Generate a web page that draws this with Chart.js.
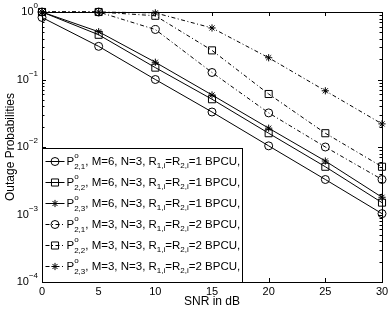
<!DOCTYPE html>
<html>
<head>
<meta charset="utf-8">
<script src="https://cdn.jsdelivr.net/npm/chart.js@4/dist/chart.umd.min.js"></script>
<style>
  html, body { margin: 0; padding: 0; background: #fff; }
  #wrap { width: 390px; height: 309px; }
</style>
</head>
<body>
<div id="wrap"><canvas id="outageChart"></canvas></div>
<script>
// data
const snrDb = [0, 5, 10, 15, 20, 25, 30];
const solidCircle = [0.83, 0.31, 0.10, 0.033, 0.0104, 0.0033, 0.00103];
const solidSquare = [1, 0.46, 0.15, 0.051, 0.016, 0.0051, 0.0015];
const solidStar = [1, 0.51, 0.18, 0.059, 0.019, 0.0062, 0.0018];
const dashCircle = [1, 1, 0.55, 0.127, 0.032, 0.010, 0.0033];
const dashSquare = [1, 1, 0.88, 0.27, 0.061, 0.016, 0.0051];
const dashStar = [1, 1, 0.97, 0.58, 0.21, 0.068, 0.022];

const xTicks = [0, 5, 10, 15, 20, 25, 30];
const yExponents = [0, -1, -2, -3, -4];

const legendRows = [
  { sub: '2,1', m: '6', r: '1' },
  { sub: '2,2', m: '6', r: '1' },
  { sub: '2,3', m: '6', r: '1' },
  { sub: '2,1', m: '3', r: '2' },
  { sub: '2,2', m: '3', r: '2' },
  { sub: '2,3', m: '3', r: '2' }
];

const FONT = '"Liberation Sans", Arial, Helvetica, sans-serif';
const DASHDOT = [4, 2.5, 1, 2.5];
const SIZES = { circle: 4, rect: 5, star: 3.6 };

function series(data, marker, dashed) {
  return {
    data: snrDb.map((x, i) => ({ x: x, y: data[i] })),
    borderColor: '#000',
    borderWidth: 1,
    borderDash: dashed ? DASHDOT : [],
    pointStyle: marker,
    pointRadius: SIZES[marker],
    pointBorderColor: '#000',
    pointBackgroundColor: 'rgba(0,0,0,0)',
    pointBorderWidth: 1,
    tension: 0,
    clip: false
  };
}

const datasets = [
  series(solidCircle, 'circle', false),
  series(solidSquare, 'rect', false),
  series(solidStar, 'star', false),
  series(dashCircle, 'circle', true),
  series(dashSquare, 'rect', true),
  series(dashStar, 'star', true)
];

// frame, inward ticks, labels and legend drawn on the canvas
const decorations = {
  id: 'decorations',
  afterDatasetsDraw(chart) {
    const ctx = chart.ctx;
    const a = chart.chartArea;
    const xs = chart.scales.x;
    const ys = chart.scales.y;
    ctx.save();
    ctx.strokeStyle = '#000';
    ctx.fillStyle = '#000';
    ctx.lineWidth = 1;

    // ticks
    ctx.beginPath();
    xTicks.forEach(v => {
      const px = Math.round(xs.getPixelForValue(v)) + 0.5;
      ctx.moveTo(px, a.bottom); ctx.lineTo(px, a.bottom - 4);
      ctx.moveTo(px, a.top); ctx.lineTo(px, a.top + 4);
    });
    yExponents.forEach(e => {
      const py = Math.round(ys.getPixelForValue(Math.pow(10, e))) + 0.5;
      ctx.moveTo(a.left, py); ctx.lineTo(a.left + 4, py);
      ctx.moveTo(a.right, py); ctx.lineTo(a.right - 4, py);
      if (e > -4) {
        for (let k = 2; k <= 9; k++) {
          const pm = Math.round(ys.getPixelForValue(k * Math.pow(10, e - 1))) + 0.5;
          ctx.moveTo(a.left, pm); ctx.lineTo(a.left + 2.5, pm);
          ctx.moveTo(a.right, pm); ctx.lineTo(a.right - 2.5, pm);
        }
      }
    });
    ctx.stroke();
    ctx.strokeRect(Math.round(a.left) + 0.5, Math.round(a.top) + 0.5,
      Math.round(a.right - a.left), Math.round(a.bottom - a.top));

    // x tick labels
    ctx.font = '11px ' + FONT;
    ctx.textAlign = 'center';
    ctx.textBaseline = 'top';
    xTicks.forEach(v => ctx.fillText(String(v), xs.getPixelForValue(v), a.bottom + 4));

    // y tick labels 10^e
    yExponents.forEach(e => {
      const py = ys.getPixelForValue(Math.pow(10, e));
      ctx.textAlign = 'right';
      ctx.textBaseline = 'middle';
      const exp = e === 0 ? '0' : '\u2212' + (-e);
      ctx.font = '8px ' + FONT;
      const ew = ctx.measureText(exp).width;
      ctx.fillText(exp, a.left - 4, py - 6);
      ctx.font = '11px ' + FONT;
      ctx.fillText('10', a.left - 4 - ew, py);
    });

    // axis titles
    ctx.font = '12px ' + FONT;
    ctx.textAlign = 'center';
    ctx.textBaseline = 'alphabetic';
    ctx.fillText('SNR in dB', (a.left + a.right) / 2, 305);
    ctx.save();
    ctx.translate(11, (a.top + a.bottom) / 2);
    ctx.rotate(-Math.PI / 2);
    ctx.textBaseline = 'middle';
    ctx.fillText('Outage Probabilities', 0, 0);
    ctx.restore();

    // legend
    const lx = Math.round(a.left) + 0.5;
    const ly = 148.5;
    const lw = 200;
    const lh = Math.round(a.bottom) - 148;
    ctx.fillStyle = '#fff';
    ctx.fillRect(lx, ly, lw, lh);
    ctx.strokeRect(lx, ly, lw, lh);
    legendRows.forEach((row, i) => {
      const ds = chart.data.datasets[i];
      const cy = 161.5 + i * 21;
      ctx.beginPath();
      ctx.setLineDash(ds.borderDash);
      ctx.moveTo(lx + 3, cy); ctx.lineTo(lx + 22, cy);
      ctx.stroke();
      ctx.setLineDash([]);
      ctx.fillStyle = 'rgba(0,0,0,0)';
      Chart.helpers.drawPoint(ctx, {
        pointStyle: ds.pointStyle, radius: ds.pointRadius, rotation: 0, borderWidth: 1
      }, lx + 12.5, cy);
      ctx.fillStyle = '#000';
      ctx.textAlign = 'left';
      ctx.textBaseline = 'middle';
      let tx = lx + 24;
      const put = (txt, size, dy) => {
        ctx.font = size + 'px ' + FONT;
        ctx.fillText(txt, tx, cy + dy);
        tx += ctx.measureText(txt).width;
      };
      put('P', 11.5, 0);
      ctx.font = '8px ' + FONT;
      ctx.fillText('o', tx, cy - 6);
      put(row.sub, 8, 5);
      put(', M=' + row.m + ', N=3, R', 11.5, 0);
      put('1,i', 8, 4);
      put('=R', 11.5, 0);
      put('2,i', 8, 4);
      put('=' + row.r + ' BPCU,', 11.5, 0);
    });
    ctx.restore();
  }
};

new Chart(document.getElementById('outageChart'), {
  type: 'line',
  data: { datasets: datasets },
  options: {
    responsive: true,
    maintainAspectRatio: false,
    animation: false,
    layout: { padding: { top: 12, right: 8, left: 0, bottom: 0 } },
    plugins: { legend: { display: false }, tooltip: { enabled: false } },
    scales: {
      x: {
        type: 'linear', min: 0, max: 30,
        grid: { display: false }, border: { display: false },
        ticks: { display: false },
        afterFit(scale) { scale.height = 27; }
      },
      y: {
        type: 'logarithmic', min: 1e-4, max: 1,
        grid: { display: false }, border: { display: false },
        ticks: { display: false },
        afterFit(scale) { scale.width = 42; }
      }
    }
  },
  plugins: [decorations]
});
</script>
</body>
</html>
